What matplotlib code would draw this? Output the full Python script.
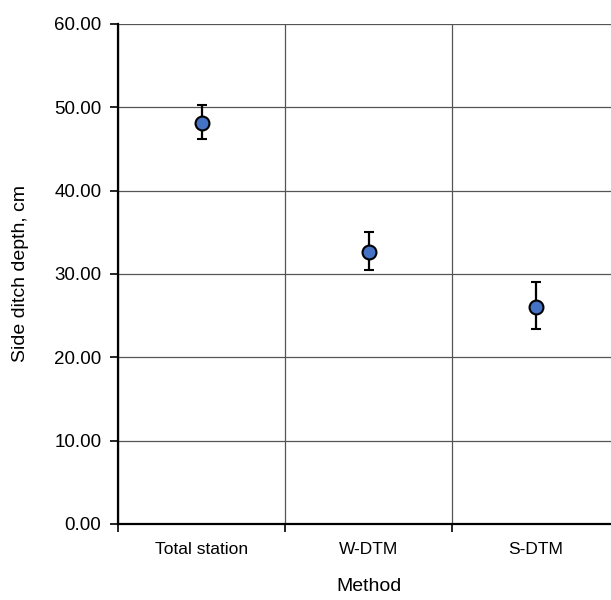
import numpy as np
import matplotlib.pyplot as plt
from matplotlib.ticker import FormatStrFormatter

methods = ["Total station", "W-DTM", "S-DTM"]
depth = [48.1, 32.6, 26.0]
err_low = [1.85, 2.15, 2.6]
err_high = [2.15, 2.4, 3.0]

plt.rcParams['font.family'] = ['Liberation Sans Narrow', 'Liberation Sans', 'DejaVu Sans']

fig = plt.figure(figsize=(6.11, 6.00), dpi=100)
ax = fig.add_axes([118 / 611, 76 / 600, 501 / 611, 500 / 600])

x = np.arange(len(methods))
ax.errorbar(x, depth, yerr=[err_low, err_high], fmt='o', color='black',
            markerfacecolor='#4472C4', markeredgecolor='black', markeredgewidth=1.5,
            markersize=10, elinewidth=1.6, capsize=3.5, capthick=1.6, zorder=3)

ax.set_xlim(-0.5, 2.5)
ax.set_ylim(0, 60)
ax.set_yticks(np.arange(0, 61, 10))
ax.yaxis.set_major_formatter(FormatStrFormatter('%.2f'))
ax.set_xticks([-0.5, 0.5, 1.5, 2.5])
ax.set_xticklabels([])
ax.set_xticks(x, minor=True)
ax.set_xticklabels(methods, minor=True)
ax.tick_params(axis='x', which='minor', length=0, pad=13, labelsize=12.5)
ax.tick_params(axis='x', which='major', length=6, width=1.2, direction='out')
ax.tick_params(axis='y', length=6, width=1.2, direction='out', labelsize=13.5, pad=6)

ax.grid(True, which='major', color='#555555', linewidth=0.9)
ax.set_axisbelow(True)
for s in ['top', 'right']:
    ax.spines[s].set_visible(False)
ax.spines['left'].set_linewidth(1.6)
ax.spines['bottom'].set_linewidth(1.6)

ax.set_ylabel("Side ditch depth, cm", fontsize=14, labelpad=18)
ax.set_xlabel("Method", fontsize=14, labelpad=15)

fig.savefig("out.png", dpi=100)
